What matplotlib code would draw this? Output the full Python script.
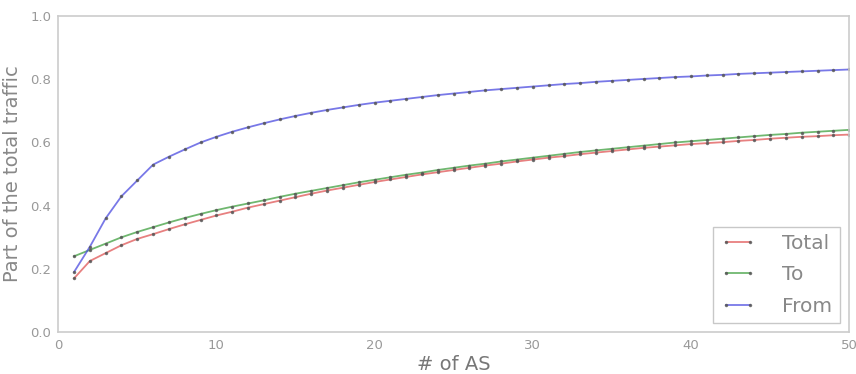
import matplotlib
matplotlib.use("Agg")
import matplotlib.pyplot as plt

n_as = list(range(1, 51))
total = [0.170, 0.225, 0.250, 0.275, 0.295, 0.310, 0.326, 0.341, 0.355, 0.369,
         0.381, 0.394, 0.405, 0.416, 0.427, 0.438, 0.448, 0.457, 0.466, 0.475,
         0.483, 0.491, 0.499, 0.506, 0.513, 0.520, 0.527, 0.533, 0.540, 0.546,
         0.552, 0.557, 0.563, 0.568, 0.573, 0.578, 0.583, 0.587, 0.591, 0.595,
         0.598, 0.601, 0.605, 0.608, 0.612, 0.615, 0.618, 0.620, 0.623, 0.625]
to = [0.240, 0.260, 0.280, 0.300, 0.317, 0.332, 0.347, 0.361, 0.374, 0.386,
      0.397, 0.407, 0.417, 0.428, 0.438, 0.447, 0.456, 0.465, 0.474, 0.482,
      0.490, 0.498, 0.505, 0.513, 0.520, 0.527, 0.533, 0.540, 0.546, 0.552,
      0.558, 0.564, 0.570, 0.575, 0.580, 0.585, 0.590, 0.595, 0.600, 0.604,
      0.608, 0.612, 0.616, 0.620, 0.624, 0.627, 0.631, 0.634, 0.637, 0.640]
from_ = [0.190, 0.270, 0.360, 0.430, 0.480, 0.530, 0.555, 0.578, 0.600, 0.618,
         0.634, 0.648, 0.661, 0.673, 0.684, 0.694, 0.703, 0.711, 0.719, 0.726,
         0.732, 0.738, 0.744, 0.750, 0.755, 0.760, 0.765, 0.769, 0.773, 0.777,
         0.781, 0.785, 0.788, 0.792, 0.795, 0.798, 0.801, 0.804, 0.807, 0.809,
         0.812, 0.814, 0.817, 0.819, 0.821, 0.823, 0.825, 0.827, 0.829, 0.831]

series = [("Total", total, "#e05555"), ("To", to, "#3f9f3f"), ("From", from_, "#4b4be0")]

fig = plt.figure(figsize=(8.56, 3.74), dpi=100)
ax = fig.add_axes([0.068, 0.112, 0.924, 0.845])
for name, vals, col in series:
    ax.plot(n_as, vals, color=col, alpha=0.75, lw=1.3, marker='.', ms=3,
            mfc='#555555', mec='#555555', label=name)

ax.set_xlim(0, 50)
ax.set_ylim(0, 1.0)
ax.set_xticks([0, 10, 20, 30, 40, 50])
ax.set_yticks([0.0, 0.2, 0.4, 0.6, 0.8, 1.0])
ax.set_yticklabels(["0.0", "0.2", "0.4", "0.6", "0.8", "1.0"])
for s in ax.spines.values():
    s.set_color("#cccccc")
    s.set_linewidth(1.2)
ax.tick_params(length=0, colors="#999999", labelsize=9.5, pad=5)
ax.set_xlabel("# of AS", color="#777777", fontsize=14, labelpad=2)
ax.set_ylabel("Part of the total traffic", color="#888888", fontsize=14, labelpad=6)
leg = ax.legend(loc="lower right", fontsize=14.5, frameon=True, fancybox=False,
                borderpad=0.35, handlelength=1.8, handletextpad=1.3, numpoints=2,
                labelspacing=0.6, borderaxespad=0, bbox_to_anchor=(0.988, 0.03))
leg.get_frame().set_edgecolor("#bbbbbb")
leg.get_frame().set_linewidth(1.0)
for t in leg.get_texts():
    t.set_color("#888888")
fig.savefig("out.png", dpi=100)
